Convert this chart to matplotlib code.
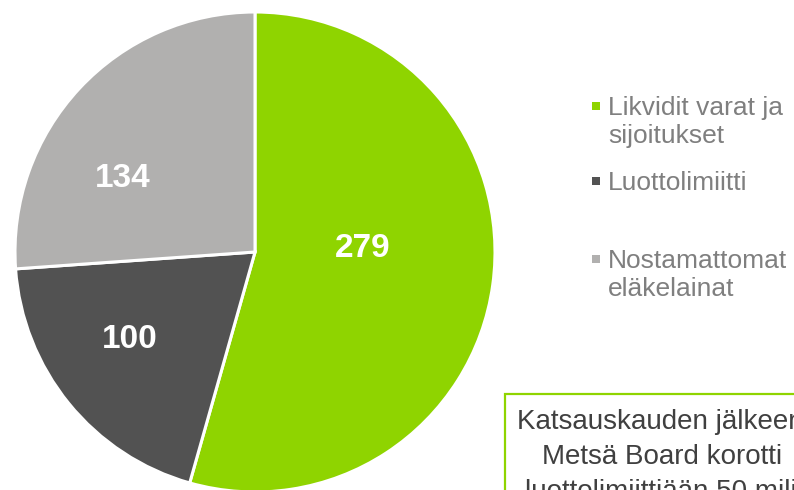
import matplotlib
matplotlib.use("Agg")
import matplotlib.pyplot as plt
from matplotlib.patches import Rectangle

plt.rcParams['font.family'] = ['Liberation Sans', 'DejaVu Sans']

# data
values = [279, 100, 134]
labels = ["Likvidit varat ja\nsijoitukset", "Luottolimiitti", "Nostamattomat\neläkelainat"]
colors = ["#8fd400", "#525252", "#b1b0af"]
note_lines = ["Katsauskauden jälkeen", "Metsä Board korotti", "luottolimiittiään 50 miljoonalla"]

W, H = 794, 490
fig = plt.figure(figsize=(W / 100, H / 100), dpi=100)


def px(x, y):
    # pixel position (top-left origin) -> figure fraction
    return x / W, 1 - y / H


# pie, centre at (255, 252), radius 240 px
cx, cy, r = 255, 252, 240
ax = fig.add_axes([(cx - r) / W, 1 - (cy + r) / H, 2 * r / W, 2 * r / H])
wedges, _ = ax.pie(values, colors=colors, startangle=90, counterclock=False,
                   radius=1, wedgeprops=dict(edgecolor="white", linewidth=2.2))
for w in wedges:
    w.set_clip_on(False)
ax.set_xlim(-1, 1)
ax.set_ylim(-1, 1)
ax.axis("off")

# value labels inside slices
label_pos = [(0.45, -0.02), (-0.52, -0.40), (-0.55, 0.27)]
for v, (lx, ly) in zip(values, label_pos):
    ax.text(lx, ly, str(v), color="white", fontsize=24, fontweight="bold",
            ha="center", va="baseline")

# legend (drawn by hand, PowerPoint-style spacing)
leg_y = [115, 190, 268]   # baseline of first line of each entry
line_h = 28
for lab, col, y in zip(labels, colors, leg_y):
    x0, y0 = px(592, y - 5)
    fig.patches.append(Rectangle((x0, y0), 8 / W, 8 / H, transform=fig.transFigure,
                                 facecolor=col, edgecolor="none"))
    for i, part in enumerate(lab.split("\n")):
        tx, ty = px(608, y + i * line_h)
        fig.text(tx, ty, part, fontsize=19, color="#7f7f7f", ha="left", va="baseline")

# note box (runs off the right edge)
bx, by = px(505, 394)
fig.patches.append(Rectangle((bx, by - 200 / H), 400 / W, 200 / H, transform=fig.transFigure,
                             facecolor="none", edgecolor="#8fd400", linewidth=1.6))
for line, x, y in zip(note_lines, [517, 542, 525], [429, 464, 499]):
    tx, ty = px(x, y)
    fig.text(tx, ty, line, fontsize=20, color="#404040", ha="left", va="baseline")

fig.savefig("out.png", dpi=100)
